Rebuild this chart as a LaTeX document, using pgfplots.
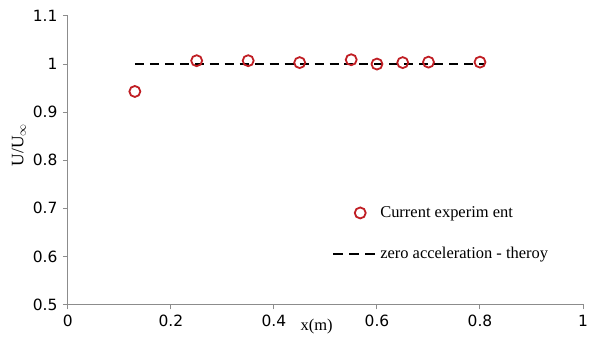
\documentclass[border=0pt]{standalone}
\usepackage{fontspec}
\setmainfont{Liberation Serif}
\setsansfont{DejaVu Sans}
\usepackage{pgfplots}
\pgfplotsset{compat=1.18}
\definecolor{mkred}{RGB}{192,30,36}
\definecolor{axgray}{RGB}{140,140,140}
\begin{document}
\begin{tikzpicture}
\useasboundingbox (-68pt,-39pt) rectangle (523pt,305pt);
\begin{axis}[
  at={(0pt,0pt)}, anchor=south west,
  scale only axis, width=516pt, height=289pt,
  xmin=0, xmax=1, ymin=0.5, ymax=1.1,
  axis x line=bottom, axis y line=left,
  axis line style={axgray, line width=1.1pt, -},
  xtick={0,0.2,0.4,0.6,0.8,1}, ytick={0.5,0.6,0.7,0.8,0.9,1,1.1},
  xticklabels={0,0.2,0.4,0.6,0.8,1},
  yticklabels={0.5,0.6,0.7,0.8,0.9,1,1.1},
  tick style={axgray, line width=1pt},
  tick align=outside, major tick length=5pt,
  ticklabel style={font=\sffamily\fontsize{15.5}{15.5}\selectfont, text=black},
  xticklabel style={yshift=-2pt},
  yticklabel style={xshift=-2pt},
  xlabel={x(m)}, ylabel={U/U$_\infty$},
  label style={font=\fontsize{16.5}{16.5}\selectfont},
  xlabel style={at={(axis cs:0.483,0.5)}, anchor=north, yshift=-11pt},
  ylabel style={at={(ticklabel cs:0.56)}, anchor=near ticklabel, xshift=-2pt, font=\fontsize{17.5}{17.5}\selectfont},
  clip=false,
  legend style={draw=none, fill=none, at={(axis cs:0.507,0.712)}, anchor=north west,
    font=\fontsize{16.5}{16.5}\selectfont, row sep=24pt},
  legend cell align=left,
]
\addplot[only marks, mark=o, mark size=5.5pt, mark options={mkred, line width=1.8pt}]
coordinates {(0.13,0.943) (0.25,1.007) (0.35,1.007) (0.45,1.003) (0.55,1.009) (0.6,1.0) (0.65,1.003) (0.7,1.004) (0.8,1.004)};
\addlegendentry{Current experim ent}
\addplot[black, line width=2pt, dash pattern=on 9pt off 6pt,
  legend image code/.code={\draw[black, line width=2pt, dash pattern=on 10pt off 6pt] (-0.65cm,0) -- (0.9cm,0);}]
coordinates {(0.13,1.0) (0.81,1.0)};
\addlegendentry{zero acceleration - theroy}
\end{axis}
\end{tikzpicture}
\end{document}
